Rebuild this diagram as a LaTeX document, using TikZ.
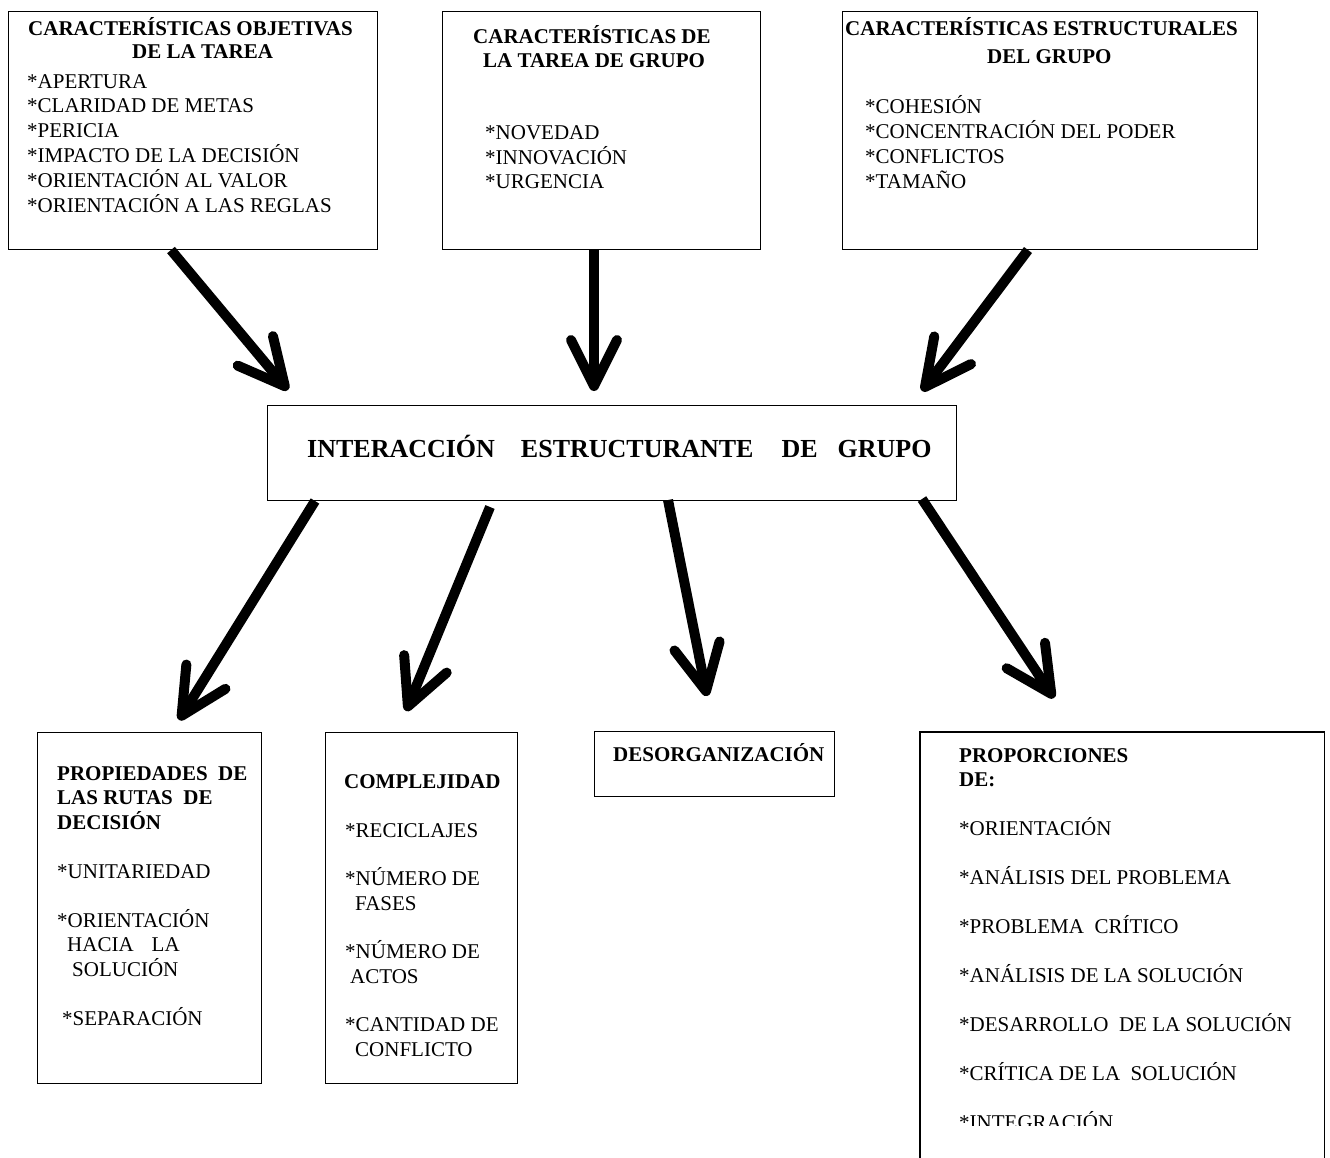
\documentclass[tikz,border=0pt]{standalone}
\usepackage{fontspec}
\setmainfont{Liberation Serif}
\usetikzlibrary{arrows.meta}
\newcommand{\TL}[1]{\hbox{#1}}
\begin{document}
\begin{tikzpicture}[x=1pt,y=-1pt,
  box/.style={draw, line width=1.4pt, anchor=north west, inner sep=0pt},
  openbox/.style={anchor=north west, inner sep=0pt},
  txt/.style={anchor=base west, inner sep=0pt, font=\fontsize{21}{24.5}\selectfont},
  arr/.style={line width=10pt, line cap=butt, -{Straight Barb[length=46pt,width=46pt,line width=10pt,round]}}]
\useasboundingbox (0,0) rectangle (1330,1157);

% boxes
\node[box, minimum width=369pt, minimum height=238pt] (b1) at (8,11) {};
\node[box, minimum width=318pt, minimum height=238pt] (b2) at (442,11) {};
\node[box, minimum width=415pt, minimum height=238pt] (b3) at (842,11) {};
\node[box, minimum width=689pt, minimum height=95pt] (c) at (267,405) {};
\node[box, minimum width=224pt, minimum height=351pt] (d1) at (37,732) {};
\node[box, minimum width=192pt, minimum height=351pt] (d2) at (325,732) {};
\node[box, minimum width=240pt, minimum height=65pt] (d3) at (594,731) {};
\node[openbox, minimum width=404pt, minimum height=440pt] (d4) at (920,732) {};
\draw[line width=1.4pt] (d4.south west) -- (d4.north west) -- (d4.north east) -- (d4.south east);

% texts
\node[txt] (t1) at (28,35) {\vtop{\baselineskip=24.8pt
  \TL{\bfseries CARACTERÍSTICAS OBJETIVAS}\vskip-1.8pt
  \TL{\kern104pt\bfseries DE LA TAREA}\vskip5.2pt
  \TL{\kern-1pt*APERTURA}
  \TL{\kern-1pt*CLARIDAD DE METAS}
  \TL{\kern-1pt*PERICIA}
  \TL{\kern-1pt*IMPACTO DE LA DECISIÓN}
  \TL{\kern-1pt*ORIENTACIÓN AL VALOR}
  \TL{\kern-1pt*ORIENTACIÓN A LAS REGLAS}}};

\node[txt] (t2) at (473,43) {\vtop{\baselineskip=24.5pt
  \TL{\bfseries CARACTERÍSTICAS DE}
  \TL{\kern10pt\bfseries LA TAREA DE GRUPO}\vskip47.5pt
  \TL{\kern12pt*NOVEDAD}
  \TL{\kern12pt*INNOVACIÓN}
  \TL{\kern12pt*URGENCIA}}};

\node[txt] (t3) at (845,35) {\vtop{\baselineskip=25pt
  \TL{\bfseries CARACTERÍSTICAS ESTRUCTURALES}\vskip3pt
  \TL{\kern142pt\bfseries DEL GRUPO}\vskip25pt
  \TL{\kern20pt*COHESIÓN}
  \TL{\kern20pt*CONCENTRACIÓN DEL PODER}
  \TL{\kern20pt*CONFLICTOS}
  \TL{\kern20pt*TAMAÑO}}};

\node[txt, font=\fontsize{26}{30}\selectfont\bfseries] (tc) at (307,457)
  {INTERACCIÓN\hspace{26pt}ESTRUCTURANTE\hspace{28pt}DE\hspace{20pt}GRUPO};

\node[txt] (td1) at (57,780) {\vtop{\baselineskip=24.5pt
  \TL{\bfseries PROPIEDADES\ \ DE}
  \TL{\bfseries LAS RUTAS\ \ DE}
  \TL{\bfseries DECISIÓN}\vskip24.5pt
  \TL{*UNITARIEDAD}\vskip24.5pt
  \TL{*ORIENTACIÓN}
  \TL{\kern10pt HACIA\kern18pt LA}
  \TL{\kern15pt SOLUCIÓN}\vskip24.5pt
  \TL{\kern5pt*SEPARACIÓN}}};

\node[txt] (td2) at (344,788) {\vtop{\baselineskip=24.5pt
  \TL{\bfseries COMPLEJIDAD}\vskip24.5pt
  \TL{\kern1pt*RECICLAJES}\vskip24pt
  \TL{\kern1pt*NÚMERO DE}
  \TL{\kern11pt FASES}\vskip24pt
  \TL{\kern1pt*NÚMERO DE}
  \TL{\kern6pt ACTOS}\vskip24pt
  \TL{\kern1pt*CANTIDAD DE}
  \TL{\kern11pt CONFLICTO}}};

\node[txt, font=\fontsize{21}{24.5}\selectfont\bfseries] (td3) at (613,761) {DESORGANIZACIÓN};

\begin{scope}
\clip (900,740) rectangle (1330,1125);
\node[txt] (td4) at (959,762) {\vtop{\baselineskip=24pt
  \TL{\bfseries PROPORCIONES}
  \TL{\bfseries DE:}\vskip25pt
  \TL{*ORIENTACIÓN}\vskip25pt
  \TL{*ANÁLISIS DEL PROBLEMA}\vskip25pt
  \TL{*PROBLEMA\ \ CRÍTICO}\vskip25pt
  \TL{*ANÁLISIS DE LA SOLUCIÓN}\vskip25pt
  \TL{*DESARROLLO\ \ DE LA SOLUCIÓN}\vskip25pt
  \TL{*CRÍTICA DE LA\ \ SOLUCIÓN}\vskip25pt
  \TL{*INTEGRACIÓN}}};
\end{scope}

% connector end points
\coordinate (a1s) at (171,250); \coordinate (a1e) at (288,390);
\coordinate (a2s) at (594,250); \coordinate (a2e) at (594,391);
\coordinate (a3s) at (1028,250); \coordinate (a3e) at (922,391);
\coordinate (a4s) at (315,501); \coordinate (a4e) at (179,720);
\coordinate (a5s) at (490,507); \coordinate (a5e) at (406,711);
\coordinate (a6s) at (668,500); \coordinate (a6e) at (707,696);
\coordinate (a7s) at (922,499); \coordinate (a7e) at (1054,698);

\draw[arr] (a1s) -- (a1e);
\draw[arr] (a2s) -- (a2e);
\draw[arr] (a3s) -- (a3e);
\draw[arr] (a4s) -- (a4e);
\draw[arr] (a5s) -- (a5e);
\draw[arr] (a6s) -- (a6e);
\draw[arr] (a7s) -- (a7e);
\end{tikzpicture}
\end{document}
